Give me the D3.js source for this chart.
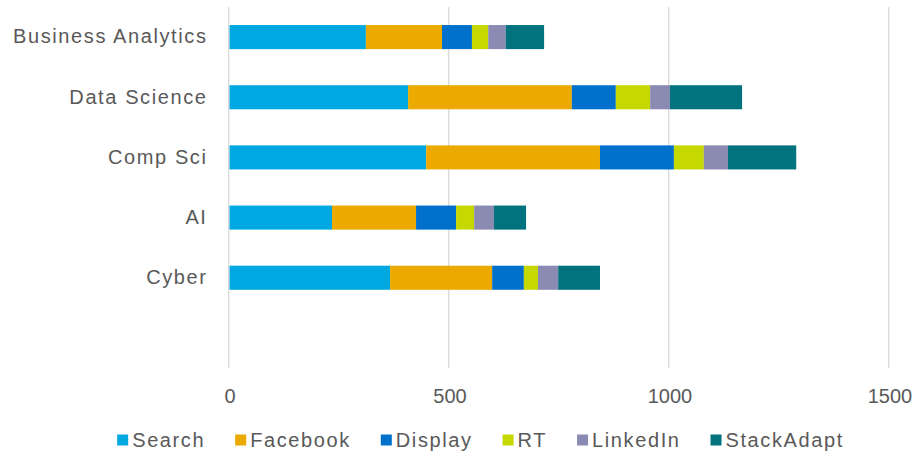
<!DOCTYPE html>
<html>
<head>
<meta charset="utf-8">
<script src="https://cdn.jsdelivr.net/npm/d3@7"></script>
<style>
  html, body { margin: 0; padding: 0; background: #ffffff; }
  svg { display: block; }
  text { font-family: "Liberation Sans", Arial, sans-serif; fill: #595959; }
</style>
</head>
<body>
<svg id="chart" width="919" height="454"></svg>
<script>
// Programmes (top to bottom); the trailing blank slot keeps the empty row under Cyber
const categories = ["Business Analytics", "Data Science", "Comp Sci", "AI ", "Cyber"];

// Spend per channel, one value per programme
const search     = [310, 406, 447, 233, 365];
const facebook   = [173, 372, 395, 191, 232];
const display    = [68, 100, 168, 91, 72];
const rt         = [37, 78, 68, 41, 32];
const linkedin   = [40, 45, 55, 45, 46];
const stackadapt = [87, 164, 155, 73, 95];

const seriesNames = ["Search", "Facebook", "Display", "RT", "LinkedIn", "StackAdapt"];
const seriesValues = [search, facebook, display, rt, linkedin, stackadapt];
const seriesColors = ["#00A8E1", "#ECAA00", "#0070CD", "#C5D800", "#8A8AB2", "#00737E"];

const xTicks = [0, 500, 1000, 1500];

const svg = d3.select("#chart");
const plot = { left: 229.5, right: 889.5, top: 7, bottom: 368 };
const fontSize = 20;
const labelSpacing = "1.6px";
const tickSpacing = "0px";

const x = d3.scaleLinear().domain([0, 1500]).range([plot.left, plot.right]);
const y = d3.scaleBand()
  .domain([...categories, ""])
  .range([plot.top, plot.bottom])
  .paddingInner(0.6)
  .paddingOuter(0.3);

// Vertical gridlines
svg.append("g")
  .selectAll("line")
  .data(xTicks)
  .join("line")
  .attr("x1", d => x(d) - 0.8)
  .attr("x2", d => x(d) - 0.8)
  .attr("y1", plot.top)
  .attr("y2", plot.bottom)
  .attr("stroke", "#D9D9D9")
  .attr("stroke-width", 1.3);

// Stacked table built from the channel arrays
const table = categories.map((c, i) => {
  const row = { category: c };
  seriesNames.forEach((s, j) => { row[s] = seriesValues[j][i]; });
  return row;
});
const stacked = d3.stack().keys(seriesNames)(table);

svg.append("g")
  .selectAll("g")
  .data(stacked)
  .join("g")
  .attr("fill", (d, i) => seriesColors[i])
  .selectAll("rect")
  .data(d => d)
  .join("rect")
  .attr("x", d => x(d[0]))
  .attr("width", d => x(d[1]) - x(d[0]))
  .attr("y", d => y(d.data.category))
  .attr("height", y.bandwidth());

// Category labels
const yAxis = d3.axisLeft(y).tickSize(0).tickPadding(0).tickValues(categories);
const yg = svg.append("g")
  .attr("transform", `translate(${plot.left - 22},0)`)
  .call(yAxis);
yg.select(".domain").remove();
yg.selectAll("text")
  .attr("font-size", fontSize)
  .style("letter-spacing", labelSpacing)
  .style("font-family", '"Liberation Sans", Arial, sans-serif')
  .attr("fill", "#595959");

// Value axis labels
const xAxis = d3.axisBottom(x).tickValues(xTicks).tickSize(0).tickPadding(0).tickFormat(d3.format("d"));
const xg = svg.append("g")
  .attr("transform", `translate(0,${plot.bottom + 21})`)
  .call(xAxis);
xg.select(".domain").remove();
xg.selectAll("text")
  .attr("font-size", fontSize)
  .style("letter-spacing", tickSpacing)
  .style("font-family", '"Liberation Sans", Arial, sans-serif')
  .attr("fill", "#595959");

// Legend
const legend = svg.append("g");
const items = legend.selectAll("g")
  .data(seriesNames)
  .join("g");
items.append("rect")
  .attr("width", 11)
  .attr("height", 11)
  .attr("y", -5.5)
  .attr("fill", (d, i) => seriesColors[i]);
items.append("text")
  .attr("x", 15)
  .attr("dy", "0.36em")
  .attr("font-size", fontSize)
  .style("letter-spacing", labelSpacing)
  .text(d => d);

const gap = 30;
let cursor = 0;
items.each(function () {
  const g = d3.select(this);
  g.attr("transform", `translate(${cursor},0)`);
  cursor += 15 + g.select("text").node().getComputedTextLength() + gap;
});
const legendWidth = cursor - gap;
legend.attr("transform", `translate(${480.5 - legendWidth / 2},440)`);
</script>
</body>
</html>
